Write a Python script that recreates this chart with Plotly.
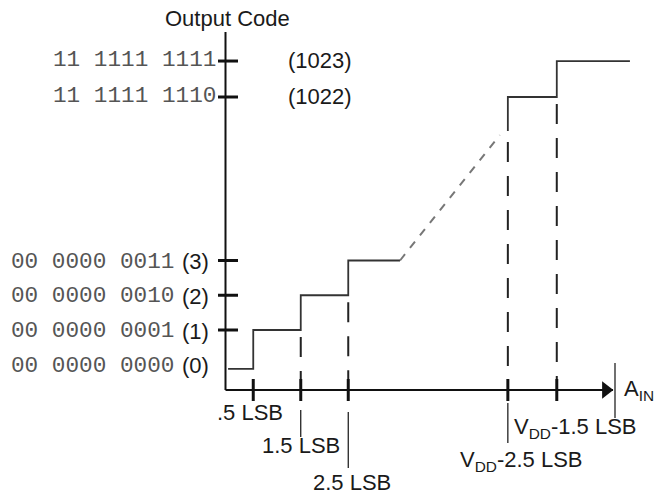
import plotly.graph_objects as go

# ---------------- data ----------------
codes = [0, 1, 2, 3, 1022, 1023]
code_bin = ["00 0000 0000", "00 0000 0001", "00 0000 0010", "00 0000 0011",
            "11 1111 1110", "11 1111 1111"]
code_pos = [0, 1, 2, 3, 7.705, 8.74]         # position of each code on the (broken) vertical axis
base_level = -0.12                            # drawn level of code 0 step

trans_labels = [".5 LSB", "1.5 LSB", "2.5 LSB",
                "V<sub>DD</sub>-2.5 LSB", "V<sub>DD</sub>-1.5 LSB"]
trans_pos = [0.5, 1.5, 2.5, 5.86, 6.89]       # input transition points (LSB, broken axis)

low_start, low_end = -0.03, 3.59              # extent of lower staircase
high_end = 8.43                               # extent of upper staircase
ramp_top = (5.69, 6.61)                       # end of dashed ramp
step_top_start = 6.73                         # start of solid riser at VDD-2.5

# ---------------- geometry (page pixels -> data) ----------------
OFF = 8                      # browser body margin
PX_X, PX_Y = 47.5, 34.75
X0, Y0 = 229.5 - OFF, 364.75 - OFF
W, H = 662 - OFF, 499 - OFF
xr = [-X0 / PX_X, (W - X0) / PX_X]
yr = [-(H - Y0) / PX_Y, Y0 / PX_Y]

def dx(px):  # page x pixel -> data
    return (px - OFF - X0) / PX_X

def dy(py):  # page y pixel -> data
    return (Y0 - (py - OFF)) / PX_Y

axis_x = dx(225.5)
axis_y = dy(390)
yaxis_top = dy(32)
xaxis_end = dx(613)

fig = go.Figure()

def line(xs, ys, color="#111", width=2, dash="solid"):
    fig.add_trace(go.Scatter(x=xs, y=ys, mode="lines",
                             line=dict(color=color, width=width, dash=dash),
                             hoverinfo="skip", showlegend=False))

# axes
line([axis_x, axis_x], [axis_y, yaxis_top], width=2)
line([axis_x, xaxis_end], [axis_y, axis_y], width=2)
fig.add_trace(go.Scatter(x=[xaxis_end - 0.15], y=[axis_y], mode="markers",
                         marker=dict(symbol="triangle-right", size=15, color="#111"),
                         hoverinfo="skip", showlegend=False))

# y ticks (codes 1..1023)
for c, p in zip(codes[1:], code_pos[1:]):
    line([dx(218), dx(238)], [p, p], width=3)
# x ticks
for t in trans_pos:
    line([t, t], [dy(379), dy(401)], width=3)

# lower staircase
sx = [low_start, trans_pos[0], trans_pos[0], trans_pos[1], trans_pos[1],
      trans_pos[2], trans_pos[2], low_end]
sy = [base_level, base_level, code_pos[1], code_pos[1], code_pos[2],
      code_pos[2], code_pos[3], code_pos[3]]
line(sx, sy, color="#333", width=1.8)

# dashed ramp
line([low_end, ramp_top[0]], [code_pos[3], ramp_top[1]], color="#777", width=2, dash="8px,8px")

# upper staircase
ux = [trans_pos[3], trans_pos[3], trans_pos[4], trans_pos[4], high_end]
uy = [step_top_start, code_pos[4], code_pos[4], code_pos[5], code_pos[5]]
line(ux, uy, color="#333", width=1.8)

# dashed drop lines
drop_from = [None, code_pos[1], code_pos[2], ramp_top[1], code_pos[4]]
for t, top in zip(trans_pos, drop_from):
    if top is None:
        continue
    line([t, t], [top - 0.2, dy(379)], color="#222", width=2, dash="20px,14px")

# leader lines below the axis
leaders = {1: (dy(410), dy(437)), 2: (dy(412), dy(468)), 3: (dy(403), dy(443))}
for i, (a, b) in leaders.items():
    line([trans_pos[i], trans_pos[i]], [a, b], color="#111", width=1.2)
ain_x = dx(615)
line([ain_x, ain_x], [dy(363), dy(418)], color="#111", width=1.2)

# ---------------- text ----------------
SANS = "Liberation Sans, Arial, sans-serif"
MONO = "Liberation Mono, Courier New, monospace"
FS = 22

def text(x, y, s, xanchor="center", family=SANS, color="#1a1a1a", size=FS):
    fig.add_annotation(x=x, y=y, text=s, showarrow=False, xanchor=xanchor,
                       yanchor="middle", font=dict(family=family, size=size, color=color),
                       borderpad=0)

text(dx(227), dy(18), "Output Code")

# binary code labels
for i, (c, b, p) in enumerate(zip(codes, code_bin, code_pos)):
    if c >= 1022:
        text(dx(217), p + 0.02, b, xanchor="right", family=MONO, color="#555", size=22.7)
        text(dx(320), p + 0.02, f"({c})")
    else:
        text(dx(175), p - 0.03, b, xanchor="right", family=MONO, color="#555", size=22.7)
        text(dx(181), p - 0.03, f"({c})", xanchor="left")

# transition labels
lab_y = [412, 445, 482, 461, 428]
lab_x = [250, 301, 352, 521, 575]
for s, lx, ly in zip(trans_labels, lab_x, lab_y):
    text(dx(lx), dy(ly), s)
text(dx(623), dy(390), "A<sub>IN</sub>", xanchor="left")

fig.update_layout(width=W, height=H, margin=dict(l=0, r=0, t=0, b=0),
                  paper_bgcolor="white", plot_bgcolor="white",
                  xaxis=dict(range=xr, visible=False, fixedrange=True),
                  yaxis=dict(range=yr, visible=False, fixedrange=True),
                  showlegend=False)
fig.write_html("out.html")
